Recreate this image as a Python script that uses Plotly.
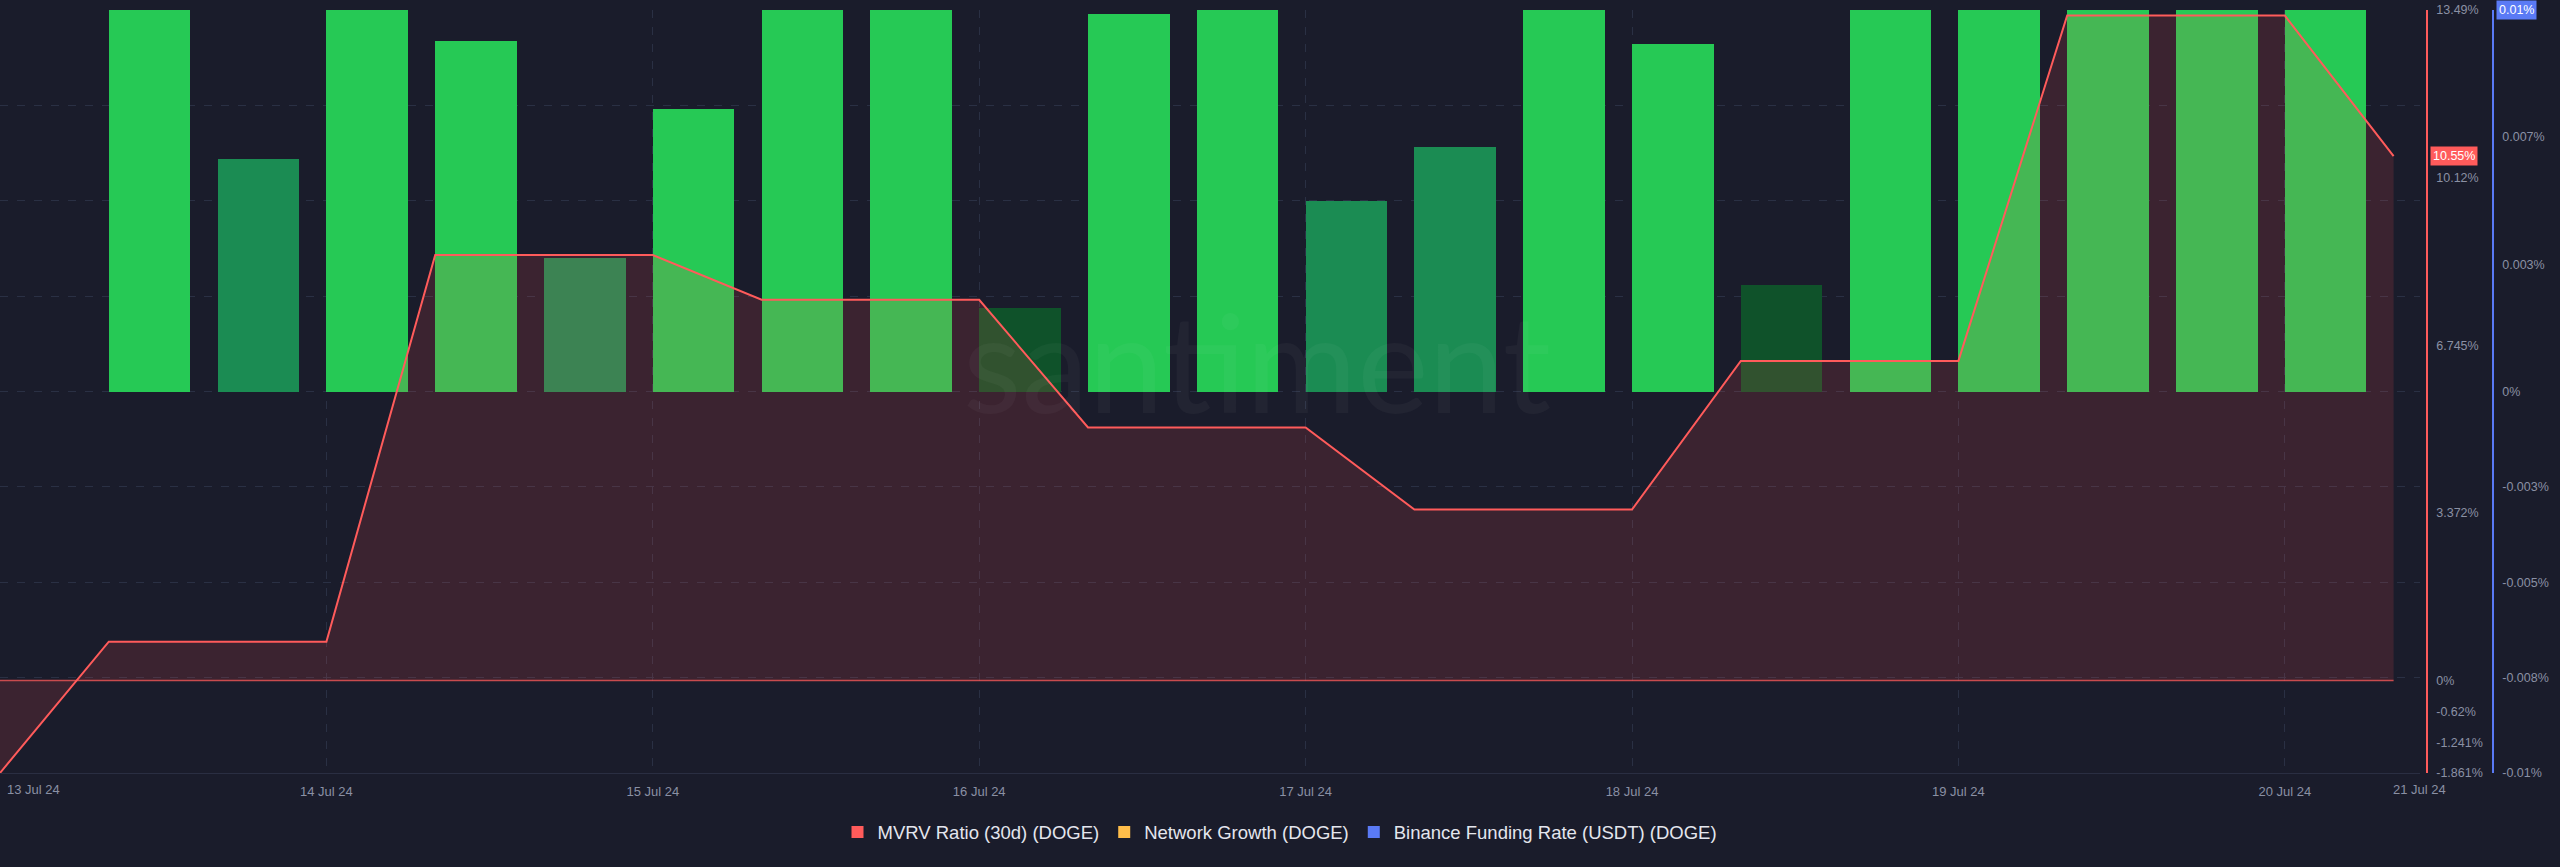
import pandas as pd
import plotly.graph_objects as go

# ---------------- data ----------------
mvrv_times = pd.date_range("2024-07-13 00:00", periods=23, freq="8h")
mvrv_values = [-1.86, 0.78, 0.78, 0.78, 8.56, 8.56, 8.56, 7.66, 7.66, 7.66,
               5.09, 5.09, 5.09, 3.44, 3.44, 3.44, 6.43, 6.43, 6.43,
               13.38, 13.38, 13.38, 10.55]

funding_times = pd.date_range("2024-07-13 08:00", periods=21, freq="8h")
funding_values = [0.0100, 0.0061, 0.0100, 0.0092, 0.0035, 0.0074, 0.0100, 0.0100,
                  0.0022, 0.0099, 0.0100, 0.0050, 0.0064, 0.0100, 0.0091, 0.0028,
                  0.0100, 0.0100, 0.0100, 0.0100, 0.0100]

network_growth_times = []
network_growth_values = []

day_ticks = pd.date_range("2024-07-13", periods=8, freq="D")
day_labels = ["", "14 Jul 24", "15 Jul 24", "16 Jul 24", "17 Jul 24",
              "18 Jul 24", "19 Jul 24", "20 Jul 24"]

mvrv_tickvals = [13.49, 10.12, 6.745, 3.372, 0, -0.62, -1.241, -1.861]
mvrv_ticktext = ["13.49%", "10.12%", "6.745%", "3.372%", "0%", "-0.62%", "-1.241%", "-1.861%"]

fr_tickvals = [0.00667, 0.00333, 0, -0.0025, -0.005, -0.0075, -0.01]
fr_ticktext = ["0.007%", "0.003%", "0%", "-0.003%", "-0.005%", "-0.008%", "-0.01%"]

# ---------------- style ----------------
BG = "#1a1c2b"
GRID = "#2a3044"
TICK = "#8a90a4"
RED = "#ff5b5b"
BLUE = "#5a7af5"
ORANGE = "#ffbd4a"
FONT = "Liberation Sans, Arial, sans-serif"


def bar_color(v):
    if v < 0.003:
        return "#0f522a"
    if v < 0.007:
        return "#1b8c53"
    return "#26c955"


fig = go.Figure()

# network growth (no visible values in this window) – lives on the hidden grid axis
fig.add_trace(go.Scatter(
    x=network_growth_times, y=network_growth_values, mode="lines",
    line=dict(color=ORANGE, width=2), xaxis="x", yaxis="y3", showlegend=False,
))

# funding rate bars (blue axis)
fig.add_trace(go.Bar(
    x=funding_times, y=funding_values,
    marker=dict(color=[bar_color(v) for v in funding_values], line=dict(width=0)),
    width=6 * 3600 * 1000, offset=0,
    xaxis="x", yaxis="y", showlegend=False, hoverinfo="skip",
))

# MVRV baseline and area (overlay, red axis)
fig.add_trace(go.Scatter(
    x=mvrv_times, y=[0] * len(mvrv_times), mode="lines",
    line=dict(color="rgba(255,91,91,0.75)", width=1.5),
    xaxis="x", yaxis="y2", showlegend=False, hoverinfo="skip",
))
fig.add_trace(go.Scatter(
    x=mvrv_times, y=mvrv_values, mode="lines",
    line=dict(color=RED, width=2),
    fill="tozeroy", fillcolor="rgba(255,82,82,0.145)",
    xaxis="x", yaxis="y2", showlegend=False, hoverinfo="skip",
))

# legend entries
for name, col in [("MVRV Ratio (30d) (DOGE)", RED),
                  ("Network Growth (DOGE)", ORANGE),
                  ("Binance Funding Rate (USDT) (DOGE)", BLUE)]:
    fig.add_trace(go.Scatter(
        x=[None], y=[None], mode="markers", name=name,
        marker=dict(symbol="square", size=12, color=col),
        xaxis="x", yaxis="y2",
    ))

x_end = pd.Timestamp("2024-07-13") + pd.Timedelta(days=2420 / 326.4)

fig.update_layout(
    width=2560, height=867,
    margin=dict(l=0, r=0, t=10, b=94),
    paper_bgcolor=BG, plot_bgcolor=BG,
    font=dict(family=FONT, color=TICK, size=13),
    bargap=0,
    xaxis=dict(
        domain=[0, 2420 / 2560],
        range=[pd.Timestamp("2024-07-13"), x_end],
        tickvals=day_ticks, ticktext=day_labels,
        showgrid=True, gridcolor=GRID, griddash="8px,9px", gridwidth=1,
        showline=True, linecolor="#2a2e42", linewidth=1,
        zeroline=False, ticks="", ticklabelstandoff=6,
        tickfont=dict(size=13, color=TICK),
    ),
    yaxis=dict(
        range=[-0.01, 0.01], side="right", anchor="free", position=2493 / 2560,
        tickvals=fr_tickvals, ticktext=fr_ticktext,
        showgrid=False, zeroline=False,
        showline=True, linecolor=BLUE, linewidth=1.5,
        ticks="", ticklabelstandoff=6, tickfont=dict(size=12.5, color=TICK),
    ),
    yaxis2=dict(
        range=[-1.861, 13.49], overlaying="y", side="right", anchor="free",
        position=2427 / 2560,
        tickvals=mvrv_tickvals, ticktext=mvrv_ticktext,
        showgrid=False, zeroline=False,
        showline=True, linecolor=RED, linewidth=1.5,
        ticks="", ticklabelstandoff=6, tickfont=dict(size=12.5, color=TICK),
    ),
    yaxis3=dict(
        range=[-0.01, 0.01], overlaying="y", side="left", anchor="x",
        tickmode="linear", dtick=0.0025, tick0=0, showticklabels=False,
        showgrid=True, gridcolor=GRID, griddash="8px,9px", gridwidth=1,
        zeroline=False, showline=False, ticks="",
    ),
    legend=dict(
        orientation="h", x=0.5, xanchor="center", y=-0.078, yanchor="middle",
        font=dict(size=18.5, color="#e4e6ee", family=FONT),
        bgcolor="rgba(0,0,0,0)", itemclick=False, itemdoubleclick=False,
    ),
    annotations=[
        dict(text="santiment", xref="paper", yref="paper", x=1257 / 2560, y=0.54,
             xanchor="center", yanchor="middle", showarrow=False,
             font=dict(family="Lato, Open Sans, sans-serif", size=135,
                       color="rgba(255,255,255,0.035)")),
        dict(text="13 Jul 24", xref="x", yref="paper", x=day_ticks[0], y=-0.021,
             xanchor="left", yanchor="middle", xshift=5, showarrow=False,
             font=dict(size=13, color=TICK)),
        dict(text="21 Jul 24", xref="paper", yref="paper", x=2419 / 2560, y=-0.021,
             xanchor="center", yanchor="middle", showarrow=False,
             font=dict(size=13, color=TICK)),
        dict(text="10.55%", xref="paper", yref="y2", x=2430 / 2560, y=mvrv_values[-1],
             xanchor="left", yanchor="middle", showarrow=False, bgcolor=RED,
             borderpad=2, font=dict(size=12.5, color="white")),
        dict(text="0.01%", xref="paper", yref="y", x=2496 / 2560, y=0.01,
             xanchor="left", yanchor="middle", showarrow=False, bgcolor=BLUE,
             borderpad=2, font=dict(size=12.5, color="white")),
    ],
)

fig.write_html("out.html")
